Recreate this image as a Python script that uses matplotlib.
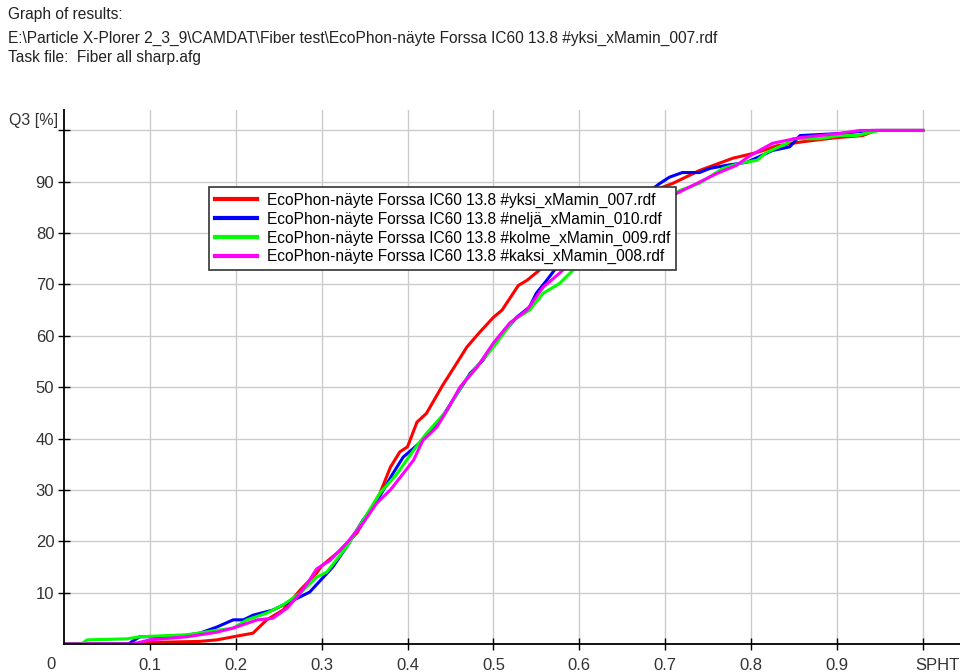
import matplotlib.pyplot as plt
import matplotlib.transforms as mtransforms

plt.rcParams['font.family'] = ['Liberation Sans', 'DejaVu Sans']

# Q3 cumulative curves (x = SPHT, y = Q3 %)
red_x = [0, 0.08, 0.10, 0.158, 0.178, 0.197, 0.22, 0.236, 0.255, 0.275, 0.294, 0.30,
         0.32, 0.341, 0.368, 0.38, 0.391, 0.40, 0.411, 0.422, 0.441, 0.457, 0.469, 0.484,
         0.50, 0.51, 0.529, 0.539, 0.558, 0.58, 0.60, 0.63, 0.66, 0.69, 0.709, 0.74,
         0.779, 0.807, 0.83, 0.86, 0.90, 0.93, 0.945, 1.0]
red_y = [0, 0, 0.3, 0.5, 0.8, 1.4, 2.1, 4.7, 6.6, 10.5, 13.8, 15.2,
         18, 21.6, 29.4, 34.4, 37.4, 38.4, 43.2, 44.9, 50.4, 54.6, 57.8, 60.7,
         63.6, 65, 69.8, 70.8, 73.4, 76, 79, 83, 86.5, 88.5, 89.7, 92.2,
         94.6, 95.7, 97, 97.8, 98.6, 99, 100, 100]

blue_x = [0, 0.075, 0.088, 0.135, 0.158, 0.178, 0.197, 0.209, 0.22, 0.243, 0.263, 0.286,
          0.302, 0.313, 0.329, 0.348, 0.36, 0.372, 0.383, 0.395, 0.407, 0.422, 0.438,
          0.453, 0.473, 0.488, 0.504, 0.527, 0.542, 0.55, 0.562, 0.577, 0.60, 0.63,
          0.66, 0.694, 0.705, 0.72, 0.74, 0.752, 0.771, 0.795, 0.807, 0.825, 0.845,
          0.857, 0.903, 0.94, 1.0]
blue_y = [0, 0, 1.4, 1.5, 2.1, 3.3, 4.7, 4.7, 5.6, 6.6, 8.2, 10.1,
          13, 15, 18.9, 24.1, 26.7, 30, 33.2, 36.4, 38.1, 40.4, 43.6,
          47.5, 52.7, 55.3, 59.1, 63.6, 65.6, 68.3, 70.8, 74.1, 77, 81,
          85.5, 89.7, 90.9, 91.8, 91.8, 92.6, 93.2, 93.8, 94.7, 96.1, 96.8,
          99, 99.4, 100, 100]

green_x = [0, 0.02, 0.027, 0.073, 0.088, 0.143, 0.197, 0.213, 0.236, 0.255, 0.275, 0.294,
           0.306, 0.329, 0.348, 0.368, 0.388, 0.407, 0.422, 0.446, 0.465, 0.484, 0.50,
           0.523, 0.542, 0.558, 0.577, 0.60, 0.64, 0.68, 0.717, 0.74, 0.767, 0.787,
           0.807, 0.818, 0.842, 0.849, 0.88, 0.903, 0.923, 0.938, 0.95, 1.0]
green_y = [0, 0, 0.8, 1.0, 1.4, 1.8, 3.1, 4.7, 6.0, 7.6, 9.9, 13,
           14, 18.9, 24, 29.4, 33.2, 37.7, 41, 45.5, 50.8, 54.7, 57.8,
           63, 65, 68.3, 70.2, 74, 79, 84, 88.3, 89.7, 92.6, 93.6,
           94.2, 95.7, 97.5, 98.4, 98.4, 99, 99, 99.6, 100, 100]

magenta_x = [0, 0.08, 0.10, 0.143, 0.178, 0.197, 0.225, 0.243, 0.26, 0.275, 0.285, 0.294,
             0.31, 0.329, 0.348, 0.364, 0.38, 0.395, 0.407, 0.418, 0.434, 0.446, 0.461,
             0.481, 0.50, 0.519, 0.539, 0.558, 0.577, 0.589, 0.62, 0.66, 0.69, 0.713,
             0.737, 0.76, 0.783, 0.799, 0.825, 0.857, 0.903, 0.927, 1.0]
magenta_y = [0, 0, 0.8, 1.4, 2.3, 3.1, 4.7, 5, 7, 9.9, 12.2, 14.6,
             16.3, 19.6, 23.5, 27.4, 30, 33.2, 35.8, 39.7, 42.2, 45.5, 50,
             53.9, 58.6, 62.5, 65, 69.5, 72.2, 74.1, 78, 83, 86.5, 87.7,
             89.7, 91.6, 93.2, 95.1, 97.5, 98.6, 99.4, 100, 100]

labels = ['EcoPhon-näyte Forssa IC60 13.8 #yksi_xMamin_007.rdf',
          'EcoPhon-näyte Forssa IC60 13.8 #neljä_xMamin_010.rdf',
          'EcoPhon-näyte Forssa IC60 13.8 #kolme_xMamin_009.rdf',
          'EcoPhon-näyte Forssa IC60 13.8 #kaksi_xMamin_008.rdf']
colors = ['#ff0000', '#0000ff', '#00ff00', '#ff00ff']

x_ticks = [0.1, 0.2, 0.3, 0.4, 0.5, 0.6, 0.7, 0.8, 0.9, 1.0]
x_ticklabels = ['0.1', '0.2', '0.3', '0.4', '0.5', '0.6', '0.7', '0.8', '0.9', 'SPHT']
y_ticks = [10, 20, 30, 40, 50, 60, 70, 80, 90, 100]
y_ticklabels = ['10', '20', '30', '40', '50', '60', '70', '80', '90', '']

fig = plt.figure(figsize=(9.6, 6.72), dpi=100)
txt = '#222222'
fig.text(0.008, 0.978, 'Graph of results:', fontsize=11.2, color=txt, va='center')
fig.text(0.008, 0.943,
         'E:\\Particle X-Plorer 2_3_9\\CAMDAT\\Fiber test\\EcoPhon-näyte Forssa IC60 13.8 #yksi_xMamin_007.rdf',
         fontsize=11.2, color=txt, va='center')
fig.text(0.008, 0.915, 'Task file:  Fiber all sharp.afg', fontsize=11.2, color=txt, va='center')

ax = fig.add_axes([0.0667, 0.0417, 0.933, 0.794])
series = [(red_x, red_y), (blue_x, blue_y), (green_x, green_y), (magenta_x, magenta_y)]
for (xs, ys), c, lab in zip(series, colors, labels):
    ax.plot(xs, ys, color=c, lw=2.2, label=lab)

ax.set_xlim(0, 1.043)
ax.set_ylim(0, 103.9)
ax.set_xticks(x_ticks)
ax.set_xticklabels(x_ticklabels)
ax.set_yticks(y_ticks)
ax.set_yticklabels(y_ticklabels)
ax.tick_params(direction='inout', length=8, width=1, colors='black',
               labelcolor='#333333', labelsize=12, pad=3)
ax.tick_params(axis='x', pad=6)
# SPHT label sits a little to the right of its tick
spht = ax.get_xticklabels()[-1]
spht.set_horizontalalignment('left')
spht.set_transform(spht.get_transform() +
                   mtransforms.ScaledTranslation(-0.08, 0, fig.dpi_scale_trans))
ax.grid(True, color='#cccccc', lw=1)
ax.set_axisbelow(True)
for s in ['top', 'right']:
    ax.spines[s].set_visible(False)
for s in ['left', 'bottom']:
    ax.spines[s].set_linewidth(1.3)

ax.text(-0.007, 102, 'Q3 [%]', ha='right', va='center', fontsize=11.5, color='#333333')
ax.text(-0.015, -2.6, '0', ha='center', va='top', fontsize=12, color='#333333')

leg = ax.legend(loc='upper left', bbox_to_anchor=(0.162, 0.856), fontsize=11.2,
                frameon=True, fancybox=False, edgecolor='#333333', framealpha=1,
                borderpad=0.35, labelspacing=0.24, handlelength=2.7, handletextpad=0.7,
                borderaxespad=0)
leg.get_frame().set_linewidth(1.2)
for h in leg.get_lines():
    h.set_linewidth(3)

plt.savefig('out.png', dpi=100)
